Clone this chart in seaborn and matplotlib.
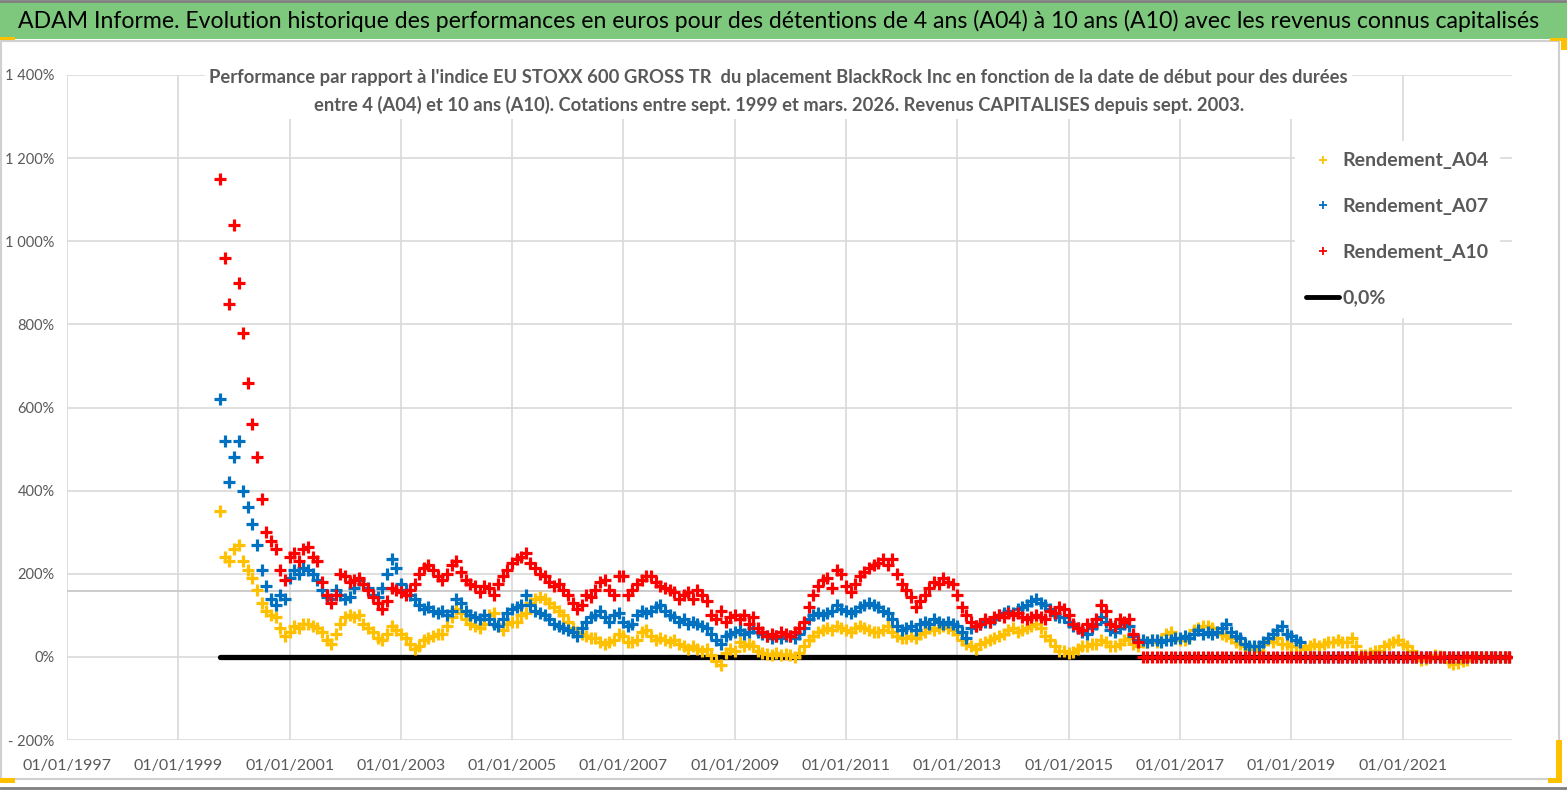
import numpy as np
import pandas as pd
import matplotlib
matplotlib.use("Agg")
import matplotlib.pyplot as plt
from matplotlib.lines import Line2D
from matplotlib.patches import Rectangle
import seaborn as sns

# monthly start dates (oct 1999 -> dec 2022)
dates = pd.date_range("1999-10-01", "2022-12-01", freq="MS")

# Rendement_A04 (yellow), one value per month, in %
a04 = (
    [350, 240, 230]
    + [260, 270, 230, 210, 190, 160, 130, 110, 100, 95, 70, 50]  # 2000
    + [60, 75, 70, 80, 80, 75, 70, 60, 40, 30, 55, 80]  # 2001
    + [95, 100, 95, 100, 80, 70, 60, 45, 40, 55, 75, 65]  # 2002
    + [55, 45, 30, 20, 25, 40, 45, 50, 55, 55, 75, 95]  # 2003
    + [115, 105, 90, 80, 75, 70, 80, 100, 105, 75, 65, 80]  # 2004
    + [85, 85, 100, 105, 130, 140, 145, 140, 130, 120, 110, 100]  # 2005
    + [85, 70, 60, 55, 50, 45, 45, 35, 30, 35, 40, 55]  # 2006
    + [50, 35, 35, 40, 60, 65, 50, 40, 45, 40, 35, 40]  # 2007
    + [30, 25, 20, 25, 20, 15, 20, 5, -10, -20, 10, 20]  # 2008
    + [15, 35, 25, 30, 25, 15, 10, 8, 5, 10, 5, 8]  # 2009
    + [5, 0, 10, 25, 40, 50, 60, 65, 70, 65, 75, 70]  # 2010
    + [65, 60, 70, 75, 70, 65, 60, 60, 65, 75, 60, 50]  # 2011
    + [45, 45, 50, 45, 55, 60, 70, 65, 70, 75, 70, 65]  # 2012
    + [55, 40, 30, 25, 20, 30, 35, 40, 45, 50, 55, 65]  # 2013
    + [70, 60, 65, 70, 75, 80, 70, 50, 40, 25, 15, 15]  # 2014
    + [10, 12, 20, 25, 25, 30, 30, 40, 35, 25, 25, 30]  # 2015
    + [40, 45, 30, 25, 35, 35, 40, 35, 40, 55, 60, 45]  # 2016
    + [40, 40, 45, 65, 70, 75, 75, 70, 60, 55, 50, 45]  # 2017
    + [35, 30, 25, 20, 20, 15, 30, 40, 35, 45, 30, 30]  # 2018
    + [25, 25, 25, 20, 25, 30, 25, 30, 35, 35, 40, 35]  # 2019
    + [35, 45, 25, 5, 5, 10, 15, 15, 25, 30, 35, 40]  # 2020
    + [30, 25, 15, 0, -8, -5, 0, 5, 2, 0, -12, -18]  # 2021
    + [-15, -10, -8]  # 2022
)

# Rendement_A07 (blue)
a07 = (
    [620, 520, 420]
    + [480, 520, 400, 360, 320, 270, 210, 170, 140, 125, 150, 140]
    + [190, 210, 200, 215, 210, 200, 185, 160, 145, 140, 160, 150]
    + [140, 145, 165, 185, 175, 165, 150, 145, 165, 200, 235, 215]
    + [175, 160, 150, 140, 125, 115, 120, 110, 105, 110, 100, 110]
    + [140, 130, 110, 100, 95, 90, 100, 90, 80, 75, 90, 105]
    + [115, 120, 125, 150, 125, 110, 105, 100, 90, 80, 75, 70]
    + [65, 60, 50, 70, 85, 95, 100, 110, 95, 85, 100, 105]
    + [85, 75, 80, 100, 110, 105, 110, 120, 125, 110, 100, 95]
    + [85, 90, 80, 85, 80, 75, 70, 55, 40, 30, 50, 55]
    + [60, 65, 55, 60, 70, 60, 55, 50, 45, 50, 45, 50]
    + [50, 45, 55, 70, 90, 100, 105, 100, 105, 110, 125, 115]
    + [110, 105, 110, 120, 125, 130, 125, 120, 110, 105, 90, 75]
    + [65, 70, 75, 65, 80, 85, 80, 90, 85, 80, 85, 80]
    + [75, 60, 45, 70, 75, 80, 85, 85, 90, 100, 105, 110]
    + [105, 115, 120, 125, 135, 140, 130, 125, 115, 100, 95, 95]
    + [85, 75, 70, 60, 55, 70, 80, 95, 85, 65, 60, 70]
    + [80, 75, 50, 40, 40, 35, 40, 40, 35, 40, 40, 45]
    + [45, 50, 45, 55, 65, 55, 60, 55, 60, 70, 80, 60]
    + [50, 45, 30, 25, 25, 25, 35, 45, 55, 65, 75, 55]
    + [50, 40, 35]
)

# Rendement_A10 (red)
a10 = (
    [1150, 960, 850]
    + [1040, 900, 780, 660, 560, 480, 380, 300, 280, 260, 210, 185]
    + [240, 250, 230, 260, 265, 240, 230, 180, 150, 130, 150, 200]
    + [195, 180, 185, 190, 175, 160, 145, 130, 115, 135, 165, 160]
    + [155, 150, 160, 175, 200, 215, 220, 210, 195, 185, 200, 220]
    + [230, 205, 185, 175, 170, 155, 170, 165, 150, 175, 195, 210]
    + [225, 235, 240, 250, 225, 215, 200, 195, 180, 170, 175, 160]
    + [150, 130, 115, 125, 150, 145, 160, 180, 185, 160, 150, 195]
    + [195, 150, 160, 175, 185, 195, 195, 180, 170, 165, 160, 155]
    + [140, 150, 155, 140, 160, 150, 135, 100, 90, 110, 85, 95]
    + [100, 90, 100, 80, 95, 70, 60, 50, 55, 50, 60, 55]
    + [50, 60, 70, 85, 120, 150, 170, 185, 190, 165, 210, 200]
    + [170, 155, 175, 195, 205, 215, 220, 225, 235, 220, 235, 200]
    + [175, 160, 145, 120, 135, 150, 165, 180, 175, 190, 180, 175]
    + [150, 120, 100, 85, 75, 80, 90, 85, 95, 100, 95, 105]
    + [100, 105, 95, 90, 95, 100, 95, 90, 110, 105, 120, 115]
    + [100, 80, 70, 65, 80, 75, 90, 125, 110, 80, 75, 90]
    + [85, 90, 55, 35]
)


def pad_zero(vals):
    # after the last known date the series sits at 0 %
    return np.array(vals + [0] * (len(dates) - len(vals)), dtype=float)


series = [
    ("Rendement_A04", pad_zero(a04), "#FFC000"),
    ("Rendement_A07", pad_zero(a07), "#0070C0"),
    ("Rendement_A10", pad_zero(a10), "#FF0000"),
]
zero_dates = [dates[0], dates[-1]]
zero_vals = [0, 0]
stray_level = 158  # grey horizontal line in the picture

xtick_dates = pd.to_datetime([f"{y}-01-01" for y in range(1997, 2022, 2)])
xtick_labels = [f"01/01/{y}" for y in range(1997, 2022, 2)]
ytick_vals = list(range(-200, 1401, 200))
ytick_labels = ["- 200%", "0%", "200%", "400%", "600%", "800%", "1 000%", "1 200%", "1 400%"]

title = ("ADAM Informe. Evolution historique des performances en euros pour des "
         "détentions de 4 ans (A04) à 10 ans (A10) avec les revenus connus capitalisés")
subtitle = ("Performance par rapport à l'indice EU STOXX 600 GROSS TR  du placement BlackRock Inc "
            "en fonction de la date de début pour des durées\n"
            "entre 4 (A04) et 10 ans (A10). Cotations entre sept. 1999 et mars. 2026. "
            "Revenus CAPITALISES depuis sept. 2003.")

sns.set_style("white")
plt.rcParams["font.family"] = ["Lato", "DejaVu Sans"]

W, H = 1567, 790
fig = plt.figure(figsize=(W / 100, H / 100), dpi=100)


def fx(x):
    return x / W


def fy(y):
    return 1 - y / H


# green header bar + chart area frame
fig.patches.append(Rectangle((0, fy(39)), 1, fy(2) - fy(39), transform=fig.transFigure,
                             facecolor="#7DC87D", edgecolor="none", zorder=-3))
fig.patches.append(Rectangle((fx(1), fy(779)), fx(1559) - fx(1), fy(41) - fy(779),
                             transform=fig.transFigure, facecolor="white",
                             edgecolor="#D0D0D0", linewidth=1.5, zorder=-3))
for (x0, y0, w, h) in [(0, 37, 15, 3), (0, 778, 15, 5), (1556, 740, 6, 43), (1548, 778, 14, 5),
                       (1550, 38, 17, 3), (1561, 38, 6, 12)]:
    fig.patches.append(Rectangle((fx(x0), fy(y0 + h)), fx(w), h / H, transform=fig.transFigure,
                                 facecolor="#FFC000", edgecolor="none", zorder=-2))
fig.add_artist(Line2D([0, 1], [fy(1), fy(1)], color="#7F7F7F", lw=2, zorder=-2))
fig.add_artist(Line2D([0, 1], [fy(788), fy(788)], color="#7F7F7F", lw=2, zorder=-2))

fig.text(fx(779), fy(21), title, ha="center", va="center", fontsize=16.6, color="black")

ax = fig.add_axes([fx(67), fy(740), fx(1512) - fx(67), fy(75) - fy(740)])
ax.set_zorder(1)
ax.set_facecolor("none")

ax.axhline(stray_level, color="#C8C8C8", lw=1.3, zorder=1)
sns.lineplot(x=zero_dates, y=zero_vals, color="black", linewidth=3.8, ax=ax, zorder=2)
for name, vals, col in series:
    sns.scatterplot(x=dates, y=vals, marker="+", s=85, linewidth=2.3, color=col,
                    ax=ax, legend=False, zorder=3)

ax.set_xlim(pd.Timestamp("1997-01-01"), pd.Timestamp("2022-12-20"))
ax.set_ylim(-200, 1400)
ax.set_xticks(xtick_dates)
ax.set_xticklabels(xtick_labels)
ax.set_yticks(ytick_vals)
ax.set_yticklabels(ytick_labels)
ax.grid(True, color="#D9D9D9", lw=1.2)
ax.set_axisbelow(True)
for s in ax.spines.values():
    s.set_visible(False)
ax.tick_params(axis="both", length=0, colors="#595959")
ax.tick_params(axis="x", labelsize=11.5, pad=14)
ax.tick_params(axis="y", labelsize=10.5, pad=9)
ax.set_xlabel("")
ax.set_ylabel("")

ax.text(0.4925, 0.975, subtitle, transform=ax.transAxes, ha="center", va="center",
        fontsize=13.2, fontweight="bold", color="#595959", linespacing=1.7, zorder=5,
        bbox=dict(facecolor="white", edgecolor="none", pad=3))

handles = [Line2D([], [], marker="+", ls="none", color=c, markersize=6, mew=1.3)
           for _, _, c in series]
handles.append(Line2D([], [], color="black", lw=3.5))
labels = [n for n, _, _ in series] + ["0,0%"]
leg = ax.legend(handles, labels, loc="upper left", bbox_to_anchor=(fx(1285), fy(131)),
                bbox_transform=fig.transFigure, frameon=True, fancybox=False,
                handlelength=1.7, handletextpad=0.15, labelspacing=1.48,
                borderpad=0.6, prop={"size": 14, "weight": "bold"})
leg.get_frame().set_facecolor("white")
leg.get_frame().set_edgecolor("none")
leg.get_frame().set_alpha(1)
for t in leg.get_texts():
    t.set_color("#595959")

fig.savefig("out.png", dpi=100, facecolor="white")
